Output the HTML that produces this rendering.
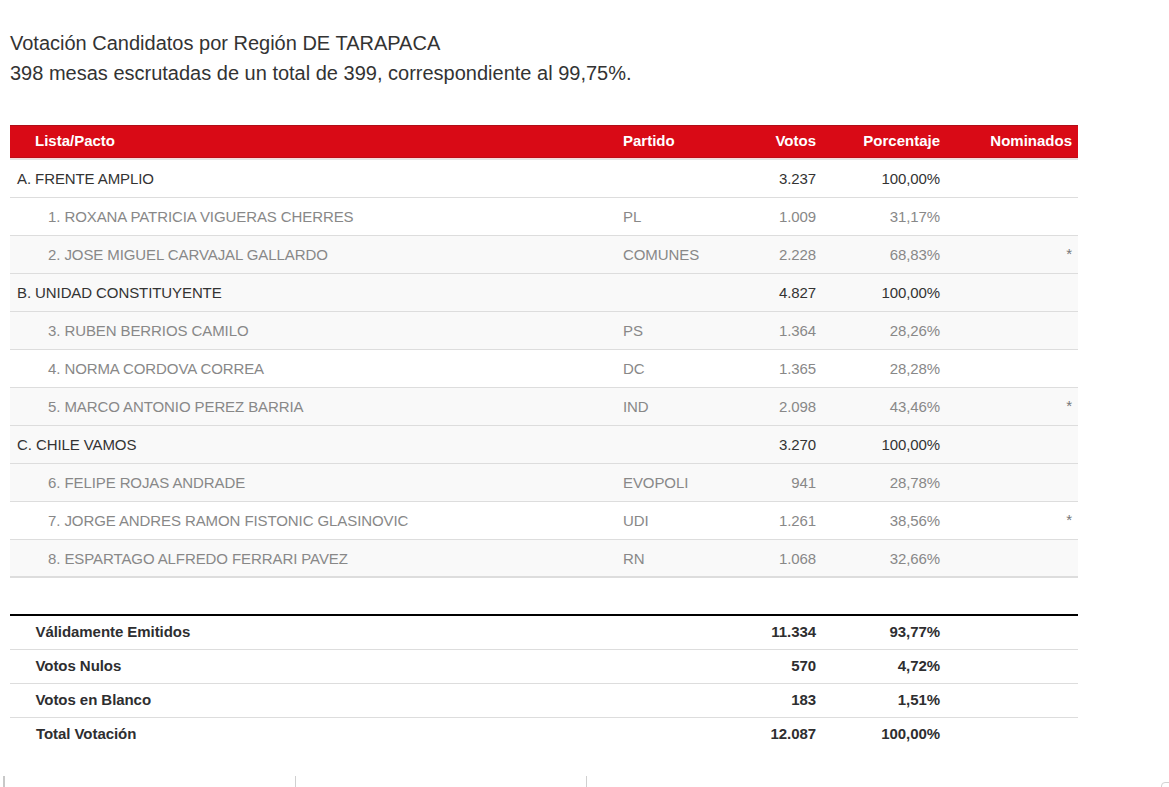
<!DOCTYPE html>
<html><head><meta charset="utf-8">
<style>
html,body{margin:0;padding:0;background:#fff;}
body{width:1169px;height:787px;overflow:hidden;position:relative;font-family:"Liberation Sans",sans-serif;}
.t{position:absolute;left:10px;font-size:20px;color:#333;white-space:nowrap;line-height:24px;}
table{border-collapse:collapse;position:absolute;left:10px;width:1068px;table-layout:fixed;font-size:15px;}
#main{top:125px;}
#main th{background:linear-gradient(to bottom,#b00e18 0,#b00e18 1px,#d90a16 1px,#d90a16 32px,#bd0d17 32px,#bd0d17 33px,#f7dcdd 33px,#f7dcdd 34px,#e3e5e5 34px);color:#fff;font-weight:bold;height:31px;padding:0 0 4px 0;text-align:left;}
.ast{position:relative;top:-1px;color:#777;}
#main td{height:37px;padding:0;letter-spacing:-0.09px;border-bottom:1px solid #ddd;color:#888;}
#main tr.g td{color:#333;}
#main tr.s td{background:#f9f9f9;}
#main tr.last td{border-bottom:2px solid #ddd;height:36px;}
.r{text-align:right !important;}
#sum{top:614px;border-top:2px solid #000;}
#sum td{height:31px;padding:0 0 2px 0;border-bottom:1px solid #ddd;font-weight:bold;color:#2e2e30;letter-spacing:-0.06px;}
#sum tr:last-child td{border-bottom:none;}
.tick{position:absolute;top:776px;height:11px;background:#ccc;}
</style></head><body>
<div class="t" style="top:31px">Votación Candidatos por Región DE TARAPACA</div>
<div class="t" style="top:61px">398 mesas escrutadas de un total de 399, correspondiente al 99,75%.</div>
<table id="main">
<colgroup><col style="width:613px"><col style="width:100px"><col style="width:93px"><col style="width:124px"><col style="width:138px"></colgroup>
<tr><th style="padding-left:25px">Lista/Pacto</th><th>Partido</th><th class="r">Votos</th><th class="r">Porcentaje</th><th class="r" style="padding-right:6px">Nominados</th></tr>
<tr class="g"><td style="padding-left:7px">A. FRENTE AMPLIO</td><td></td><td class="r">3.237</td><td class="r">100,00%</td><td></td></tr>
<tr><td style="padding-left:38px">1. ROXANA PATRICIA VIGUERAS CHERRES</td><td>PL</td><td class="r">1.009</td><td class="r">31,17%</td><td></td></tr>
<tr class="s"><td style="padding-left:38px">2. JOSE MIGUEL CARVAJAL GALLARDO</td><td>COMUNES</td><td class="r">2.228</td><td class="r">68,83%</td><td class="r" style="padding-right:6px"><span class="ast">*</span></td></tr>
<tr class="g s"><td style="padding-left:7px">B. UNIDAD CONSTITUYENTE</td><td></td><td class="r">4.827</td><td class="r">100,00%</td><td></td></tr>
<tr class="s"><td style="padding-left:38px">3. RUBEN BERRIOS CAMILO</td><td>PS</td><td class="r">1.364</td><td class="r">28,26%</td><td></td></tr>
<tr><td style="padding-left:38px">4. NORMA CORDOVA CORREA</td><td>DC</td><td class="r">1.365</td><td class="r">28,28%</td><td></td></tr>
<tr class="s"><td style="padding-left:38px">5. MARCO ANTONIO PEREZ BARRIA</td><td>IND</td><td class="r">2.098</td><td class="r">43,46%</td><td class="r" style="padding-right:6px"><span class="ast">*</span></td></tr>
<tr class="g s"><td style="padding-left:7px">C. CHILE VAMOS</td><td></td><td class="r">3.270</td><td class="r">100,00%</td><td></td></tr>
<tr class="s"><td style="padding-left:38px">6. FELIPE ROJAS ANDRADE</td><td>EVOPOLI</td><td class="r">941</td><td class="r">28,78%</td><td></td></tr>
<tr><td style="padding-left:38px">7. JORGE ANDRES RAMON FISTONIC GLASINOVIC</td><td>UDI</td><td class="r">1.261</td><td class="r">38,56%</td><td class="r" style="padding-right:6px"><span class="ast">*</span></td></tr>
<tr class="s last"><td style="padding-left:38px">8. ESPARTAGO ALFREDO FERRARI PAVEZ</td><td>RN</td><td class="r">1.068</td><td class="r">32,66%</td><td></td></tr>
</table>
<table id="sum">
<colgroup><col style="width:613px"><col style="width:100px"><col style="width:93px"><col style="width:124px"><col style="width:138px"></colgroup>
<tr><td style="padding-left:25.5px">Válidamente Emitidos</td><td></td><td class="r">11.334</td><td class="r">93,77%</td><td></td></tr>
<tr><td style="padding-left:25.5px">Votos Nulos</td><td></td><td class="r">570</td><td class="r">4,72%</td><td></td></tr>
<tr><td style="padding-left:25.5px">Votos en Blanco</td><td></td><td class="r">183</td><td class="r">1,51%</td><td></td></tr>
<tr><td style="padding-left:26px">Total Votación</td><td></td><td class="r">12.087</td><td class="r">100,00%</td><td></td></tr>
</table>
<div class="tick" style="left:3px;width:2px;background:#c8c8c8"></div>
<div class="tick" style="left:295px;width:1px;background:#d0d0d0"></div>
<div class="tick" style="left:586px;width:1px;background:#d0d0d0"></div>
<div style="position:absolute;left:1161px;top:782px;width:20px;height:20px;border:1px solid #d2d2d2;border-radius:4px;box-sizing:border-box"></div>
</body></html>
